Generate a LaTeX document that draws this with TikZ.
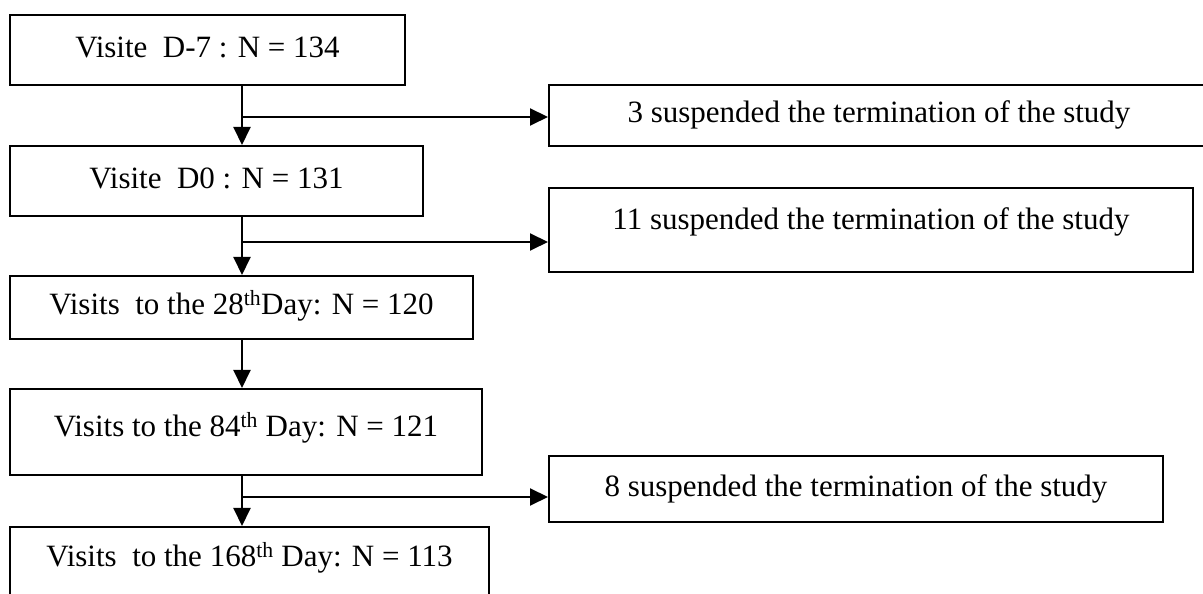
\documentclass[tikz,border=0pt]{standalone}
\usepackage{fontspec}
\setmainfont{Liberation Serif}
\usetikzlibrary{arrows.meta}

\tikzset{
    visitbox/.style={draw, line width=2pt, inner sep=0pt, text height=22pt, text depth=7pt},
    flow/.style={line width=2pt, -{Triangle[length=18pt,width=17pt]}}
}

\begin{document}
\begin{tikzpicture}[x=1pt,y=1pt, every node/.style={font=\fontsize{31}{36}\selectfont}]
    \useasboundingbox (0,0) rectangle (1203,594);
    \clip (0,0) rectangle (1203,594);

    %visits
    \node [visitbox, minimum width=395pt, minimum height=70pt] (d7) at (207.5,544) {Visite\ \ D-7 : N = 134};
    \node [visitbox, minimum width=413pt, minimum height=70pt] (d0) at (216.5,413) {Visite\ \ D0 : N = 131};
    \node [visitbox, minimum width=463pt, minimum height=63pt] (d28) at (241.5,286.5) {Visits\ \ to the 28\textsuperscript{th}Day: N = 120};
    \node [visitbox, minimum width=472pt, minimum height=86pt, text depth=12pt] (d84) at (246,162) {Visits to the 84\textsuperscript{th} Day: N = 121};
    \node [visitbox, minimum width=479pt, minimum height=83pt, text depth=25pt] (d168) at (249.5,25.5) {Visits\ \ to the 168\textsuperscript{th} Day: N = 113};

    %drop-outs
    \node [visitbox, minimum width=660pt, minimum height=61pt] (out1) at (879,478.5) {3 suspended the termination of the study};
    \node [visitbox, minimum width=644pt, minimum height=84pt, text depth=22pt] (out2) at (871,364) {11 suspended the termination of the study};
    \node [visitbox, minimum width=614pt, minimum height=66pt] (out3) at (856,105) {8 suspended the termination of the study};

    \coordinate (j1) at (242,477);
    \coordinate (j2) at (242,352);
    \coordinate (j3) at (242,97);

    \draw [flow] (d7.south -| j1) -- (d0.north -| j1);
    \draw [flow] (j1) -- (j1 -| out1.west);
    \draw [flow] (d0.south -| j2) -- (d28.north -| j2);
    \draw [flow] (j2) -- (j2 -| out2.west);
    \draw [flow] (d28.south -| j2) -- (d84.north -| j2);
    \draw [flow] (d84.south -| j3) -- (d168.north -| j3);
    \draw [flow] (j3) -- (j3 -| out3.west);
\end{tikzpicture}
\end{document}
